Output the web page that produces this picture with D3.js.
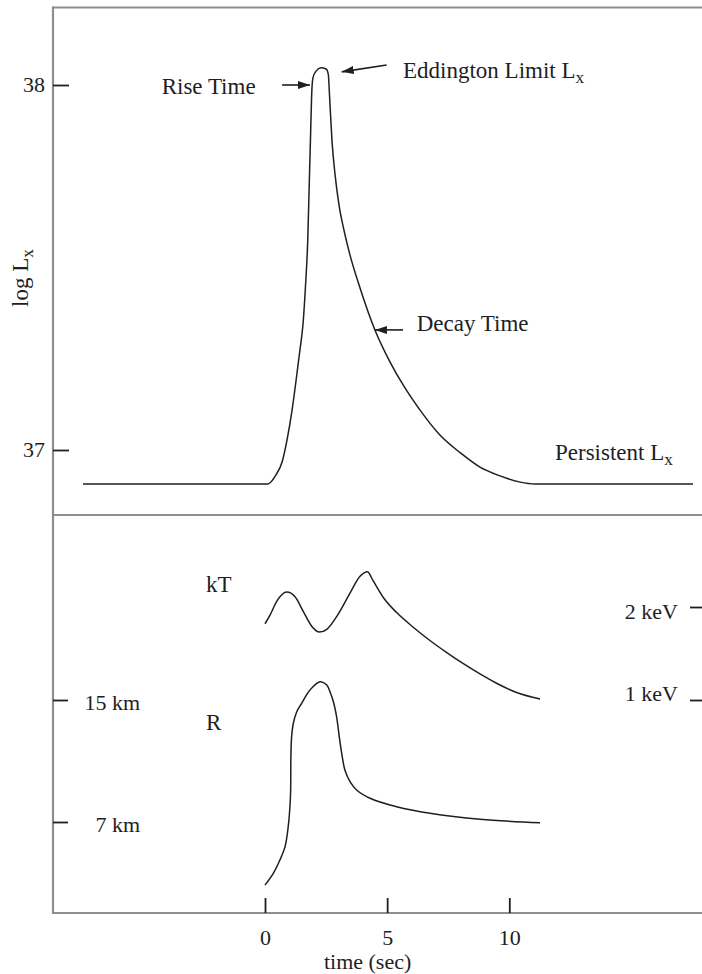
<!DOCTYPE html>
<html>
<head>
<meta charset="utf-8">
<script src="https://cdn.jsdelivr.net/npm/d3@7/dist/d3.min.js"></script>
<style>
  html, body { margin: 0; padding: 0; background: #fff; }
  svg { display: block; }
  text { font-family: "Liberation Serif", "Times New Roman", serif; fill: #1e1e24; }
</style>
</head>
<body>
<svg id="chart" width="702" height="974"></svg>
<script>
// ---------------- data ----------------
const timeTicks = [0, 5, 10];
const lxTicks = [37, 38];
const rTicks = [7, 15];
const kTTicks = [1, 2];

// X-ray luminosity (log Lx) vs time (s)
const lxTime = [-7.45, -1.0, 0.12, 0.45, 0.70, 0.90, 1.11, 1.31, 1.43, 1.56, 1.66, 1.75, 1.81, 1.86, 1.91, 1.96, 2.09, 2.29, 2.50, 2.59, 2.64, 2.74, 2.87, 3.03, 3.23, 3.48, 3.89, 4.50, 5.12, 5.73, 6.34, 7.16, 8.00, 8.80, 9.62, 10.44, 11.05, 12.5, 17.52];
const lxLog  = [36.907, 36.907, 36.907, 36.932, 36.967, 37.027, 37.110, 37.211, 37.274, 37.348, 37.452, 37.575, 37.726, 37.849, 37.973, 38.019, 38.038, 38.047, 38.044, 38.030, 37.973, 37.849, 37.753, 37.671, 37.603, 37.534, 37.444, 37.329, 37.241, 37.170, 37.110, 37.041, 36.992, 36.953, 36.929, 36.912, 36.907, 36.907, 36.907];

// blackbody temperature kT (keV)
const kTTime  = [0.00, 0.20, 0.48, 0.89, 1.23, 1.57, 1.92, 2.23, 2.53, 2.94, 3.48, 3.89, 4.19, 4.43, 4.85, 5.39, 6.08, 6.75, 7.44, 8.12, 8.80, 9.48, 10.30, 11.26];
const kTValue = [1.82, 1.91, 2.06, 2.16, 2.11, 1.95, 1.79, 1.73, 1.76, 1.90, 2.15, 2.33, 2.38, 2.28, 2.10, 1.94, 1.78, 1.64, 1.51, 1.39, 1.28, 1.18, 1.08, 1.01];

// photospheric radius R (km)
const rTime  = [0.00, 0.34, 0.61, 0.82, 0.95, 1.02, 1.05, 1.06, 1.09, 1.16, 1.30, 1.50, 1.84, 2.25, 2.53, 2.66, 2.80, 2.93, 3.04, 3.14, 3.27, 3.48, 3.75, 4.30, 5.39, 6.75, 8.80, 11.26];
const rValue = [4.72, 5.08, 5.52, 6.00, 6.80, 7.70, 8.55, 10.53, 11.93, 12.97, 13.94, 14.69, 15.97, 16.82, 16.48, 15.80, 14.84, 13.51, 11.93, 10.75, 9.69, 9.01, 8.55, 8.12, 7.70, 7.39, 7.12, 6.97];

// annotations (anchored in data space)
const arrowsTop = [
  { from: [0.70, 38.0],   to: [1.84, 38.0] },     // Rise Time
  { from: [4.98, 38.055], to: [3.14, 38.036] },   // Eddington Limit
  { from: [5.65, 37.329], to: [4.50, 37.329] }    // Decay Time
];
const labelsTop = [
  { t: -4.23, v: 37.975, text: "Rise Time", sub: "" },
  { t: 5.65,  v: 38.019, text: "Eddington Limit L", sub: "x" },
  { t: 6.21,  v: 37.326, text: "Decay Time", sub: "" },
  { t: 11.87, v: 36.973, text: "Persistent L", sub: "x" }
];

// ---------------- layout ----------------
const W = 702;
const frame = { left: 53, top: 7.5, mid: 515, bottom: 913, right: 702 };
const svg = d3.select("#chart");

const x = d3.scaleLinear().domain([0, 10]).range([265, 509.3]);
const yTop = d3.scaleLinear().domain([37, 38]).range([450, 85]);
const yR = d3.scaleLog().domain([7, 15]).range([822, 700]);
const yK = d3.scaleLinear().domain([1, 2]).range([700, 607]);

const FS = 23;
const frameColor = "#8e8e8e";
const inkColor = "#1e1e24";

// frame lines
const frameLines = [
  [frame.left, frame.top, frame.right, frame.top],
  [frame.left, frame.mid, frame.right, frame.mid],
  [frame.left, frame.bottom, frame.right, frame.bottom],
  [frame.left, frame.top - 1, frame.left, frame.bottom + 1]
];
svg.append("g").selectAll("line").data(frameLines).join("line")
  .attr("x1", d => d[0]).attr("y1", d => d[1])
  .attr("x2", d => d[2]).attr("y2", d => d[3])
  .attr("stroke", frameColor).attr("stroke-width", 2.2);

function styleAxis(g) {
  g.select(".domain").remove();
  g.selectAll(".tick line").attr("stroke", inkColor).attr("stroke-width", 1.8);
  g.selectAll(".tick text")
    .attr("font-family", "Liberation Serif, Times New Roman, serif")
    .attr("font-size", FS - 1).attr("fill", inkColor);
}

// top y axis (log Lx)
svg.append("g").attr("transform", `translate(${frame.left},0)`)
  .call(d3.axisLeft(yTop).tickValues(lxTicks).tickSize(-16).tickPadding(8).tickFormat(d3.format("d")))
  .call(styleAxis)
  .call(g => g.selectAll(".tick text").attr("dy", "0.3em"));

// bottom x axis (time)
svg.append("g").attr("transform", `translate(0,${frame.bottom})`)
  .call(d3.axisBottom(x).tickValues(timeTicks).tickSize(-15).tickPadding(16).tickFormat(d3.format("d")))
  .call(styleAxis);

// R axis (left, labels inside)
svg.append("g").attr("transform", `translate(${frame.left},0)`)
  .call(d3.axisLeft(yR).tickValues(rTicks).tickSize(-15).tickFormat(d => d + " km"))
  .call(styleAxis)
  .call(g => g.selectAll(".tick text").attr("x", 87).attr("text-anchor", "end").attr("dy", "0.42em"));

// kT axis (right edge)
svg.append("g").attr("transform", `translate(${W + 10},0)`)
  .call(d3.axisLeft(yK).tickValues(kTTicks).tickSize(22).tickPadding(12).tickFormat(d => d + " keV"))
  .call(styleAxis)
  .call(g => g.selectAll(".tick text").attr("dy", d => d === 2 ? "0.5em" : "0em"));

// curves
const smooth = d3.line().curve(d3.curveMonotoneX);
const param = d3.line().curve(d3.curveCatmullRom.alpha(0.5));
const curves = [
  { pts: lxTime.map((t, i) => [x(t), yTop(lxLog[i])]), gen: smooth },
  { pts: kTTime.map((t, i) => [x(t), yK(kTValue[i])]), gen: smooth },
  { pts: rTime.map((t, i) => [x(t), yR(rValue[i])]), gen: param }
];
svg.append("g").selectAll("path").data(curves).join("path")
  .attr("d", d => d.gen(d.pts)).attr("fill", "none")
  .attr("stroke", inkColor).attr("stroke-width", 1.5)
  .attr("stroke-linejoin", "round");

// arrows
svg.append("defs").append("marker")
  .attr("id", "ah").attr("markerUnits", "userSpaceOnUse")
  .attr("markerWidth", 14).attr("markerHeight", 10)
  .attr("refX", 12).attr("refY", 5).attr("orient", "auto")
  .append("path").attr("d", "M0,1 L12,5 L0,9 Z").attr("fill", inkColor);
svg.append("g").selectAll("line").data(arrowsTop).join("line")
  .attr("x1", d => x(d.from[0])).attr("y1", d => yTop(d.from[1]))
  .attr("x2", d => x(d.to[0])).attr("y2", d => yTop(d.to[1]))
  .attr("stroke", inkColor).attr("stroke-width", 1.6)
  .attr("marker-end", "url(#ah)");

// annotation labels
function addLabel(g, d) {
  const t = g.append("text").attr("x", d.x).attr("y", d.y)
    .attr("font-size", FS).text(d.text);
  if (d.sub) t.append("tspan").attr("font-size", FS * 0.75).attr("dy", 5).text(d.sub);
}
const gl = svg.append("g");
labelsTop.forEach(d => addLabel(gl, { x: x(d.t), y: yTop(d.v), text: d.text, sub: d.sub }));
addLabel(gl, { x: x(-2.42), y: yK(2.16), text: "kT", sub: "" });
addLabel(gl, { x: x(-2.42), y: yR(12.44), text: "R", sub: "" });

// axis titles
const yt = svg.append("text")
  .attr("transform", `translate(28,307) rotate(-90)`)
  .attr("font-size", FS).text("log L");
yt.append("tspan").attr("font-size", FS * 0.75).attr("dy", 5).text("x");

svg.append("text").attr("x", x(4.2)).attr("y", 969)
  .attr("text-anchor", "middle").attr("font-size", FS - 1).text("time (sec)");
</script>
</body>
</html>
